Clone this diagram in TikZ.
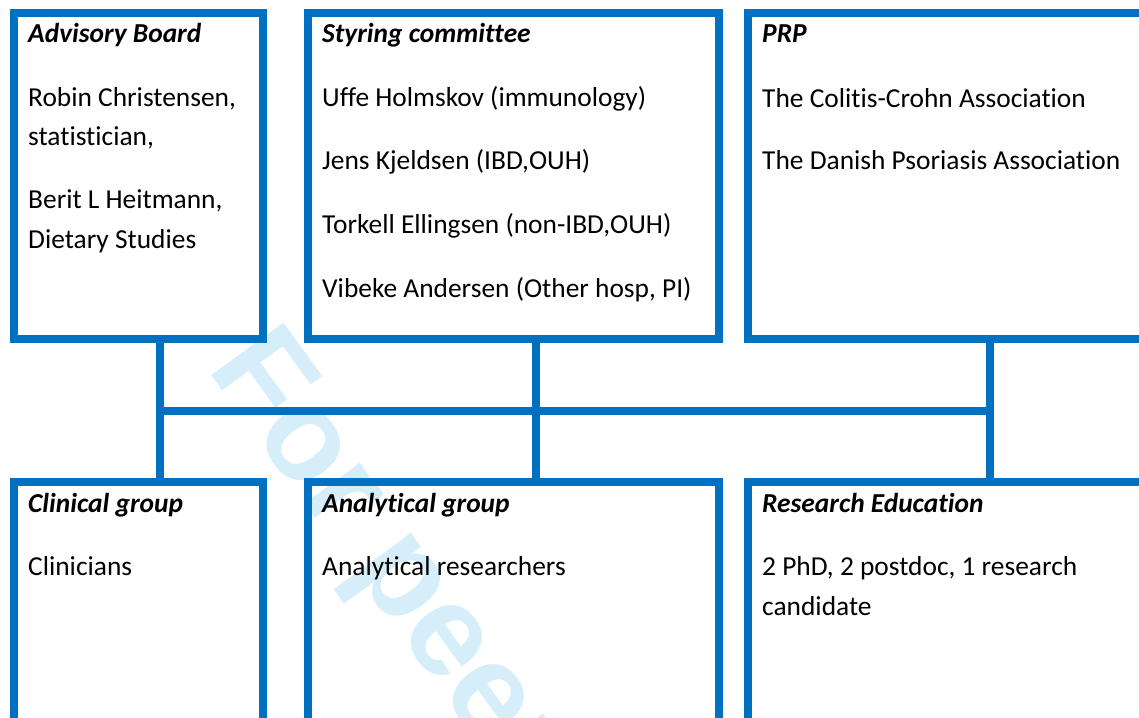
\documentclass[tikz,border=0pt]{standalone}
\usepackage{fontspec}
\setmainfont{Carlito}[Ligatures=NoCommon]
\newfontfamily\wmfont{Liberation Sans}
\definecolor{frame}{RGB}{0,112,192}
\definecolor{wmcyan}{RGB}{213,238,250}
\begin{document}
\begin{tikzpicture}[x=1pt,y=-1pt,
  panel/.style={draw=frame,line width=8pt,line join=miter,inner sep=0pt,outer sep=0pt,anchor=north west},
  link/.style={draw=frame,line width=8pt},
  head/.style={anchor=base west,inner sep=0pt,font=\fontsize{27.4}{39.5}\selectfont\bfseries\itshape},
  body/.style={anchor=base west,inner sep=0pt,font=\fontsize{27.4}{39.5}\selectfont},
  wmark/.style={anchor=base west,inner sep=0pt,text=wmcyan,font=\wmfont\bfseries\fontsize{130}{130}\selectfont}
]
\useasboundingbox (0,0) rectangle (1139,717);
\clip (0,0) rectangle (1139,717);

% background watermark
\node[wmark,rotate=-54] (wm) at (206,368) {For peer review only};

% upper row of panels
\node[panel,minimum width=249pt,minimum height=326pt] (adv) at (14,13) {};
\node[panel,minimum width=411pt,minimum height=326pt] (sty) at (308,13) {};
\node[panel,minimum width=412pt,minimum height=326pt] (prp) at (748,13) {};

% lower row of panels
\node[panel,minimum width=249pt,minimum height=263pt] (cli) at (14,482) {};
\node[panel,minimum width=411pt,minimum height=263pt] (ana) at (308,482) {};
\node[panel,minimum width=412pt,minimum height=263pt] (edu) at (748,482) {};

% connectors
\coordinate (j1) at (160,411);
\coordinate (j2) at (536,411);
\coordinate (j3) at (990,411);
\draw[link] (adv.south -| j1) -- (cli.north -| j1);
\draw[link] (sty.south -| j2) -- (ana.north -| j2);
\draw[link] (prp.south -| j3) -- (edu.north -| j3);
\draw[link] (j1) -- (j3);

% Advisory Board
\node[head] (advT) at (28,43) {Advisory Board};
\node[body] (adv1) at (28,106) {Robin Christensen,};
\node[body] (adv2) at (28,145) {statistician,};
\node[body] (adv3) at (28,208) {Berit L Heitmann,};
\node[body] (adv4) at (28,248) {Dietary Studies};

% Styring committee
\node[head] (styT) at (322,42) {Styring committee};
\node[body] (sty1) at (322,106) {Uffe Holmskov (immunology)};
\node[body] (sty2) at (322,169) {Jens Kjeldsen (IBD,OUH)};
\node[body] (sty3) at (322,233) {Torkell Ellingsen (non-IBD,OUH)};
\node[body] (sty4) at (322,297) {Vibeke Andersen (Other hosp, PI)};

% PRP
\node[head] (prpT) at (762,42) {PRP};
\node[body] (prp1) at (762,107) {The Colitis-Crohn Association};
\node[body] (prp2) at (762,169) {The Danish Psoriasis Association};

% Clinical group
\node[head] (cliT) at (28,512) {Clinical group};
\node[body] (cli1) at (28,575) {Clinicians};

% Analytical group
\node[head] (anaT) at (322,512) {Analytical group};
\node[body] (ana1) at (322,575) {Analytical researchers};

% Research Education
\node[head] (eduT) at (762,512) {Research Education};
\node[body] (edu1) at (762,575) {2 PhD, 2 postdoc, 1 research};
\node[body] (edu2) at (762,615) {candidate};
\end{tikzpicture}
\end{document}
